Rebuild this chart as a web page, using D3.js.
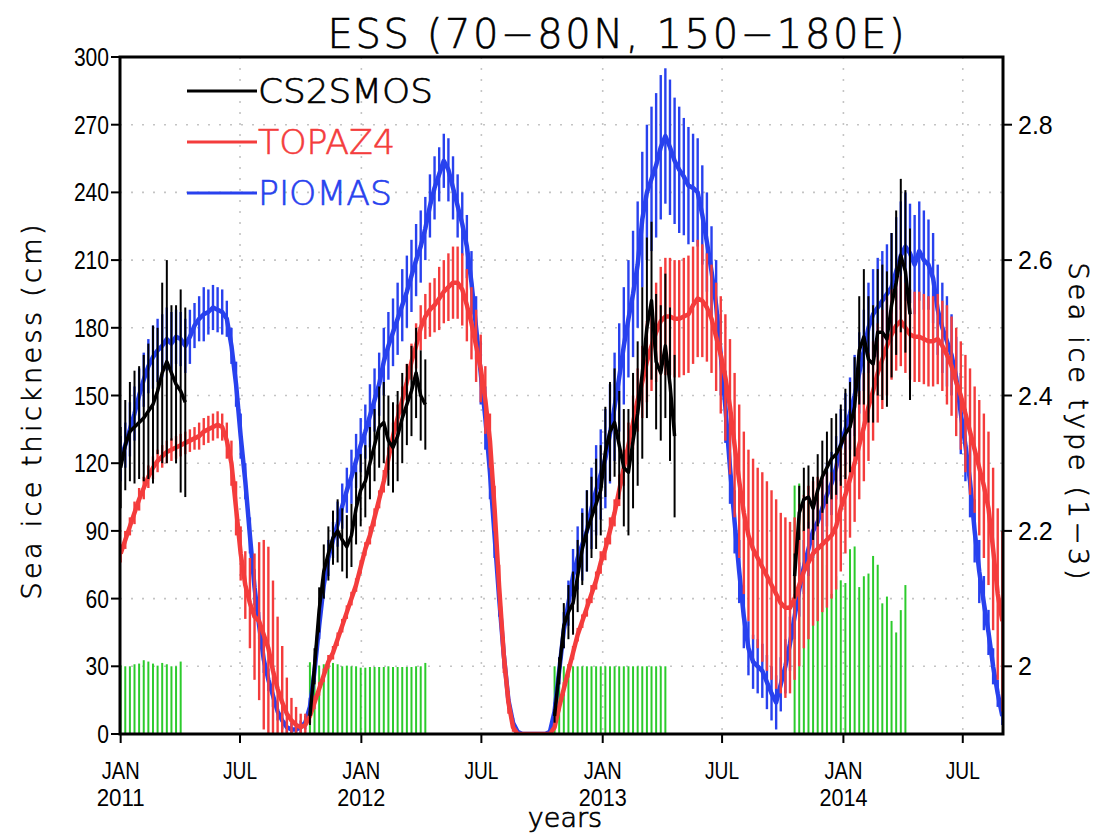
<!DOCTYPE html>
<html>
<head>
<meta charset="utf-8">
<script src="https://cdn.jsdelivr.net/npm/d3@7"></script>
<style>
body { margin: 0; background: #fff; }
svg text { font-family: "Liberation Sans", Arial, sans-serif; }
svg text.thin { font-family: "DejaVu Sans", "Liberation Sans", sans-serif; font-weight: 200; }
</style>
</head>
<body>
<div id="content"></div>
<script>
// Weekly series, week 0 = 1 Jan 2011
var firstWeek = new Date(2011, 0, 1);

var yTicks = [0, 30, 60, 90, 120, 150, 180, 210, 240, 270, 300];
var typeTicks = [2, 2.2, 2.4, 2.6, 2.8];
var monthTicks = ['2011-01-01', '2011-07-01', '2012-01-01', '2012-07-01',
                  '2013-01-01', '2013-07-01', '2014-01-01', '2014-07-01'];

// PIOMAS mean thickness (cm), weeks 0..191
var piomasMean = [
    122,128,135,142,150,157,163,167,170,172,175,173,176,
    175,172,176,181,184,186,187,189,188,187,184,172,155,
    132,112,88,65,48,33,24,17,10,6,3,2,2,
    3,5,12,28,48,66,78,86,93,101,108,114,121,
    128,134,141,148,155,165,172,178,184,190,196,203,210,
    216,224,234,242,248,254,250,242,234,226,216,200,180,
    160,140,116,88,60,35,15,5,1,0,0,0,0,
    0,0,1,10,28,46,58,70,78,84,90,100,108,
    115,122,133,145,158,172,184,195,208,228,240,246,252,
    260,265,260,254,250,247,243,242,240,230,218,205,190,
    168,145,118,94,72,52,38,32,30,28,23,18,14,
    22,30,40,52,64,74,82,90,94,100,106,111,118,
    128,135,142,150,160,170,180,186,189,192,195,198,205,
    212,216,213,208,214,210,208,202,188,180,174,168,158,
    142,128,112,90,72,58,45,30,18,8
];
var piomasSpread = [
    10,10,12,12,12,12,12,14,14,14,14,14,12,
    12,12,12,10,10,12,10,10,10,10,8,8,10,
    10,8,8,8,6,6,5,5,4,4,3,3,3,
    3,3,4,5,6,6,8,8,10,10,10,12,12,
    12,12,14,14,14,15,15,15,16,16,16,16,16,
    16,14,14,14,12,12,14,14,14,14,14,14,14,
    14,14,12,10,8,6,4,2,0,0,0,0,0,
    0,0,1,4,6,8,10,12,14,16,18,18,20,
    20,22,22,24,24,26,26,28,28,30,30,32,32,
    32,30,30,28,28,26,26,24,24,22,22,20,20,
    18,16,16,14,14,14,12,12,12,12,12,12,12,
    12,12,12,10,12,12,12,12,12,14,14,14,14,
    16,16,16,18,18,18,20,20,22,22,22,24,24,
    24,24,22,22,22,22,20,20,20,20,20,18,18,
    18,16,16,14,14,12,10,8,6,4
];

// TOPAZ4 mean thickness (cm), weeks 0..191
var topazMean = [
    80,86,92,98,104,109,114,118,121,123,125,126,127,
    128,129,130,131,132,134,135,136,137,136,130,120,100,
    80,66,58,52,50,44,38,28,20,14,9,6,4,
    3,4,8,14,20,26,32,36,42,48,54,60,66,
    74,82,88,96,104,112,122,132,140,148,156,165,172,
    180,185,188,190,193,196,198,200,200,197,190,182,172,
    162,148,130,100,65,35,14,3,0,0,0,0,0,
    0,0,0,3,12,20,28,36,44,50,56,62,68,
    76,82,90,98,108,118,128,138,148,156,165,172,178,
    183,185,185,184,184,185,186,190,193,192,189,184,176,
    168,158,145,128,112,98,88,82,78,74,70,66,62,
    58,56,56,60,66,72,76,80,82,84,86,88,92,
    100,106,113,120,128,136,145,152,160,166,172,177,181,
    183,180,177,176,176,175,174,174,175,172,168,163,156,
    150,142,134,126,118,110,100,82,62,50
];
var topazSpread = [
    4,4,4,5,5,5,5,5,5,5,5,5,5,
    5,5,5,5,6,6,6,6,6,6,8,10,12,
    12,15,20,28,35,42,45,40,32,25,16,10,8,
    6,5,3,3,3,3,3,3,3,3,3,3,3,
    3,3,4,4,4,5,5,6,6,6,8,8,10,
    10,10,12,12,14,14,15,16,16,16,16,16,16,
    15,15,12,10,10,8,5,2,0,0,0,0,0,
    0,0,0,1,2,3,3,3,3,3,4,4,4,
    5,5,6,6,7,8,10,12,14,16,18,20,22,
    24,26,26,26,26,26,26,26,26,25,24,24,24,
    26,28,30,32,34,36,38,40,40,42,42,42,42,
    40,40,38,36,36,34,34,32,32,30,30,28,28,
    28,26,26,26,24,24,24,22,22,22,22,20,20,
    20,20,20,20,20,20,20,20,20,20,22,22,24,
    24,26,28,28,30,32,34,36,38,40
];

// CS2SMOS winter seasons: first week of each season
var cs2smosStartWeek = [0, 41, 94, 146];
var cs2smosMean = [
    [118,128,134,136,138,140,143,146,152,160,165,160,155,152,147],
    [8,30,55,72,80,87,90,86,83,88,100,108,112,120,128,136,138,130,127,132,140,146,152,160,150,146],
    [8,28,48,54,58,70,82,90,96,102,108,125,134,138,128,118,116,130,142,160,180,192,165,160,172,155,132],
    [70,98,104,105,100,108,114,118,122,124,128,133,136,145,170,176,166,164,178,178,175,190,200,212,205,186]
];
var cs2smosSpread = [
    [18,20,22,25,25,28,30,35,28,40,45,30,35,45,42],
    [4,8,10,12,12,12,14,14,14,14,16,16,16,16,16,18,18,20,20,20,20,18,20,20,20,20],
    [3,6,10,12,14,16,16,18,18,20,20,20,22,24,24,26,28,30,32,38,40,35,30,30,32,34,36],
    [10,12,14,14,14,16,16,16,18,18,18,20,20,22,24,30,28,26,28,30,30,32,32,34,36,38]
];

// Sea ice type (right axis), same seasons as the bars
var iceTypeStartWeek = [0, 41, 94, 146];
var iceType = [
    [2.001,2.000,2.000,2.003,2.004,2.009,2.007,2.004,2.001,2.005,2.003,2.000,2.000,2.007],
    [2.006,2.000,2.001,2.003,2.003,2.005,2.003,2.000,2.001,2.000,2.000,1.998,1.998,
     1.999,1.999,1.999,1.999,2.000,1.999,1.999,1.999,1.999,1.999,2.000,2.000,2.005],
    [2.000,2.000,2.000,2.000,2.000,2.000,2.000,2.000,2.000,2.000,2.000,2.000,2.000,
     2.000,2.000,2.000,2.000,2.000,2.000,2.000,2.000,2.000,2.000,2.000,2.000],
    [2.267,2.270,2.260,2.250,2.233,2.200,2.187,2.150,2.107,2.133,2.127,2.123,2.173,
     2.177,2.117,2.133,2.137,2.163,2.150,2.093,2.103,2.067,2.050,2.083,2.120]
];

var W = 1105, H = 834;
var plotL = 120, plotR = 1003, plotT = 57, plotB = 734;

var svg = d3.select('#content').append('svg')
    .attr('width', W)
    .attr('height', H);

var x = d3.scaleTime()
    .domain([new Date(2010, 11, 31), new Date(2014, 7, 31)])
    .range([plotL, plotR]);
var y = d3.scaleLinear().domain([0, 300]).range([plotB, plotT]);
var y2 = d3.scaleLinear().domain([1.9, 2.9]).range([plotB, plotT]);

function weekDate(w) { return d3.timeDay.offset(firstWeek, 7 * w); }
function tickDate(d) { return new Date(d + 'T00:00'); }

svg.append('clipPath').attr('id', 'plot')
    .append('rect').attr('x', plotL).attr('y', plotT)
    .attr('width', plotR - plotL).attr('height', plotB - plotT);

// grid
var grid = svg.append('g').attr('stroke', '#c4c4c4').attr('stroke-width', 1.6)
    .attr('stroke-dasharray', '2,9');
grid.selectAll('.hg').data(yTicks.slice(1, -1)).join('line')
    .attr('x1', plotL).attr('x2', plotR)
    .attr('y1', function(d) { return y(d); }).attr('y2', function(d) { return y(d); });
grid.selectAll('.vg').data(monthTicks.slice(1)).join('line')
    .attr('y1', plotT).attr('y2', plotB)
    .attr('x1', function(d) { return x(tickDate(d)); })
    .attr('x2', function(d) { return x(tickDate(d)); });

var plot = svg.append('g').attr('clip-path', 'url(#plot)');

// green ice type bars
iceType.forEach(function(season, s) {
    plot.append('g').selectAll('line').data(season).join('line')
        .attr('stroke', '#2ccb2c').attr('stroke-width', 2)
        .attr('x1', function(d, i) { return x(weekDate(iceTypeStartWeek[s] + i)); })
        .attr('x2', function(d, i) { return x(weekDate(iceTypeStartWeek[s] + i)); })
        .attr('y1', y2(1.9))
        .attr('y2', function(d) { return y2(d); });
});

function drawSeries(mean, spread, startWeek, color, lineW, barW) {
    var pts = mean.map(function(v, i) {
        return { date: weekDate(startWeek + i), v: v, e: spread[i] };
    });
    plot.append('g').selectAll('line').data(pts.filter(function(d) { return d.e > 0; }))
        .join('line')
        .attr('stroke', color).attr('stroke-width', barW)
        .attr('x1', function(d) { return x(d.date); })
        .attr('x2', function(d) { return x(d.date); })
        .attr('y1', function(d) { return y(Math.max(0, d.v - d.e)); })
        .attr('y2', function(d) { return y(d.v + d.e); });
    plot.append('path').datum(pts)
        .attr('fill', 'none').attr('stroke', color).attr('stroke-width', lineW)
        .attr('stroke-linejoin', 'round')
        .attr('d', d3.line()
            .x(function(d) { return x(d.date); })
            .y(function(d) { return y(d.v); }));
}

drawSeries(piomasMean, piomasSpread, 0, '#2841ee', 4.5, 2.4);
drawSeries(topazMean, topazSpread, 0, '#f43c3c', 4.5, 2.4);
cs2smosMean.forEach(function(m, s) {
    drawSeries(m, cs2smosSpread[s], cs2smosStartWeek[s], '#000', 3.5, 2);
});

// frame
svg.append('rect').attr('x', plotL).attr('y', plotT)
    .attr('width', plotR - plotL).attr('height', plotB - plotT)
    .attr('fill', 'none').attr('stroke', '#000').attr('stroke-width', 3);

// left axis
var yAxis = svg.append('g');
yAxis.selectAll('line').data(yTicks).join('line')
    .attr('x1', plotL - 9).attr('x2', plotL)
    .attr('y1', function(d) { return y(d); }).attr('y2', function(d) { return y(d); })
    .attr('stroke', '#000').attr('stroke-width', 2);
yAxis.selectAll('text').data(yTicks).join('text')
    .attr('x', plotL - 11).attr('y', function(d) { return y(d) + 9; })
    .attr('text-anchor', 'end').attr('font-size', 25)
    .attr('textLength', function(d) { return String(d).length * 11.7; })
    .attr('lengthAdjust', 'spacingAndGlyphs')
    .text(function(d) { return d; });

// right axis
var rAxis = svg.append('g');
rAxis.selectAll('line').data(typeTicks).join('line')
    .attr('x1', plotR).attr('x2', plotR + 9)
    .attr('y1', function(d) { return y2(d); }).attr('y2', function(d) { return y2(d); })
    .attr('stroke', '#000').attr('stroke-width', 2);
rAxis.selectAll('text').data(typeTicks).join('text')
    .attr('x', plotR + 15).attr('y', function(d) { return y2(d) + 9; })
    .attr('font-size', 25)
    .text(function(d) { return d3.format('~g')(d); });

// bottom axis
var fmtMon = d3.timeFormat('%b');
var xAxis = svg.append('g');
xAxis.selectAll('line').data(monthTicks).join('line')
    .attr('x1', function(d) { return x(tickDate(d)); })
    .attr('x2', function(d) { return x(tickDate(d)); })
    .attr('y1', plotB).attr('y2', plotB + 9)
    .attr('stroke', '#000').attr('stroke-width', 2);
xAxis.selectAll('.mon').data(monthTicks).join('text')
    .attr('x', function(d) { return x(tickDate(d)); })
    .attr('y', 779).attr('text-anchor', 'middle').attr('font-size', 24)
    .attr('textLength', function(d) { return d.slice(5, 7) === '01' ? 38 : 34; })
    .attr('lengthAdjust', 'spacingAndGlyphs')
    .text(function(d) { return fmtMon(tickDate(d)).toUpperCase(); });
xAxis.selectAll('.yr').data(monthTicks.filter(function(d) { return d.slice(5, 7) === '01'; }))
    .join('text')
    .attr('x', function(d) { return x(tickDate(d)); })
    .attr('y', 806).attr('text-anchor', 'middle').attr('font-size', 24)
    .attr('textLength', 48).attr('lengthAdjust', 'spacingAndGlyphs')
    .text(function(d) { return d.slice(0, 4); });

// titles
svg.append('text').attr('class', 'thin').attr('x', 616).attr('y', 48)
    .attr('text-anchor', 'middle').attr('font-size', 40)
    .attr('stroke', '#000').attr('stroke-width', 0.6)
    .attr('textLength', 577).attr('lengthAdjust', 'spacing')
    .text('ESS (70\u221280N, 150\u2212180E)');
svg.append('text').attr('class', 'thin').attr('x', 565).attr('y', 827)
    .attr('text-anchor', 'middle').attr('font-size', 27)
    .attr('stroke', '#000').attr('stroke-width', 0.7)
    .text('years');
svg.append('text').attr('class', 'thin').attr('transform', 'translate(41,412) rotate(-90)')
    .attr('text-anchor', 'middle').attr('font-size', 27)
    .attr('stroke', '#000').attr('stroke-width', 0.7)
    .attr('textLength', 375).attr('lengthAdjust', 'spacing')
    .text('Sea ice thickness (cm)');
svg.append('text').attr('class', 'thin').attr('transform', 'translate(1069,421) rotate(90)')
    .attr('text-anchor', 'middle').attr('font-size', 27)
    .attr('stroke', '#000').attr('stroke-width', 0.7)
    .attr('textLength', 317).attr('lengthAdjust', 'spacing')
    .text('Sea ice type (1\u22123)');

// legend
var legendNames = ['CS2SMOS', 'TOPAZ4', 'PIOMAS'];
var legendColors = ['#000', '#f43c3c', '#2841ee'];
var legendWidths = [175, 137, 134];
var legend = svg.append('g');
legendNames.forEach(function(name, i) {
    var ly = 91 + i * 51;
    legend.append('line').attr('x1', 187).attr('x2', 257)
        .attr('y1', ly).attr('y2', ly)
        .attr('stroke', legendColors[i]).attr('stroke-width', 3);
    legend.append('text').attr('class', 'thin').attr('x', 258).attr('y', ly + 12)
        .attr('font-size', 33).attr('fill', legendColors[i])
        .attr('stroke', legendColors[i]).attr('stroke-width', 0.6)
        .attr('textLength', legendWidths[i]).attr('lengthAdjust', 'spacingAndGlyphs')
        .text(name);
});
</script>
</body>
</html>
